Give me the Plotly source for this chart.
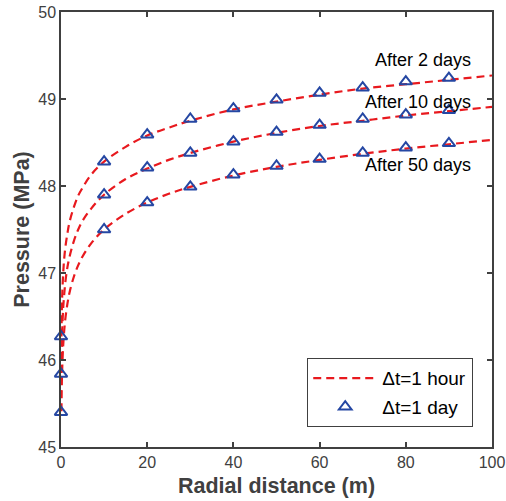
import plotly.graph_objects as go

# Dashed curves (Δt = 1 hour)
r_line = [0.1, 0.2, 0.3, 0.5, 0.7, 1, 1.5, 2, 3, 4, 5, 7, 10, 15, 20, 25, 30, 40, 50, 60, 70, 80, 90, 100]
p2_line = [46.27, 46.59, 46.77, 46.99, 47.14, 47.29, 47.46, 47.59, 47.76, 47.89, 47.98, 48.13, 48.28,
           48.45, 48.58, 48.67, 48.75, 48.88, 48.97, 49.05, 49.12, 49.17, 49.22, 49.27]
p10_line = [45.85, 46.18, 46.36, 46.59, 46.73, 46.89, 47.07, 47.19, 47.37, 47.50, 47.60, 47.74, 47.90,
            48.08, 48.20, 48.30, 48.38, 48.51, 48.61, 48.69, 48.75, 48.81, 48.86, 48.91]
p50_line = [45.41, 45.75, 45.93, 46.16, 46.31, 46.47, 46.65, 46.78, 46.96, 47.09, 47.19, 47.34, 47.50,
            47.68, 47.81, 47.91, 47.99, 48.12, 48.22, 48.30, 48.37, 48.43, 48.48, 48.53]

# Triangles (Δt = 1 day)
r_mark = [0, 10, 20, 30, 40, 50, 60, 70, 80, 90]
p2_mark = [46.27, 48.28, 48.59, 48.77, 48.89, 48.99, 49.07, 49.13, 49.20, 49.24]
p10_mark = [45.84, 47.90, 48.21, 48.38, 48.51, 48.62, 48.70, 48.77, 48.82, 48.87]
p50_mark = [45.40, 47.50, 47.81, 47.99, 48.13, 48.23, 48.31, 48.38, 48.44, 48.49]

labels = ["After 2 days", "After 10 days", "After 50 days"]
label_y = [49.45, 48.97, 48.24]

RED = "#E8191E"
BLUE = "#2547A3"
AX = "#404040"
FONT = "Liberation Sans, Arial, sans-serif"

fig = go.Figure()
for i, p in enumerate([p2_line, p10_line, p50_line]):
    fig.add_trace(go.Scatter(x=r_line, y=p, mode="lines", line_shape="spline",
                             line=dict(color=RED, width=2.2, dash="8px,5px"),
                             name="Δt=1 hour", showlegend=(i == 0), legendrank=1,
                             legendgroup="hour"))
for i, p in enumerate([p2_mark, p10_mark, p50_mark]):
    fig.add_trace(go.Scatter(x=r_mark, y=p, mode="markers", cliponaxis=False,
                             marker=dict(symbol="triangle-up-open", size=11, color=BLUE,
                                         line=dict(width=2, color=BLUE)),
                             name="Δt=1 day", showlegend=(i == 0), legendrank=2,
                             legendgroup="day"))

for t, yv in zip(labels, label_y):
    fig.add_annotation(x=95.6, y=yv, text=t, showarrow=False, xanchor="right", yanchor="middle",
                       font=dict(size=18, color="black", family=FONT))

axis_common = dict(showline=True, linecolor=AX, linewidth=1.5, mirror="ticks", ticks="inside",
                   ticklen=5, tickwidth=1.5, tickcolor=AX, showgrid=False, zeroline=False,
                   automargin=False,
                   tickfont=dict(size=16, color=AX, family=FONT))
fig.update_xaxes(range=[0, 100], tickvals=[0, 20, 40, 60, 80, 100],
                 title=dict(text="<b>Radial distance (m)</b>", font=dict(size=21.5, color=AX, family=FONT),
                            standoff=8),
                 **axis_common)
fig.update_yaxes(range=[45, 50], tickvals=[45, 46, 47, 48, 49, 50],
                 title=dict(text="<b>Pressure (MPa)</b>", font=dict(size=21.5, color=AX, family=FONT),
                            standoff=3),
                 **axis_common)

fig.update_layout(
    width=506, height=501,
    margin=dict(l=61, r=14, t=12, b=54),
    plot_bgcolor="white", paper_bgcolor="white",
    font=dict(family=FONT),
    legend=dict(x=0.956, y=0.046, xanchor="right", yanchor="bottom",
                bgcolor="white", bordercolor=AX, borderwidth=1.2,
                font=dict(size=19, color="black", family=FONT),
                itemwidth=64, tracegroupgap=1),
)

fig.write_html("out.html")
